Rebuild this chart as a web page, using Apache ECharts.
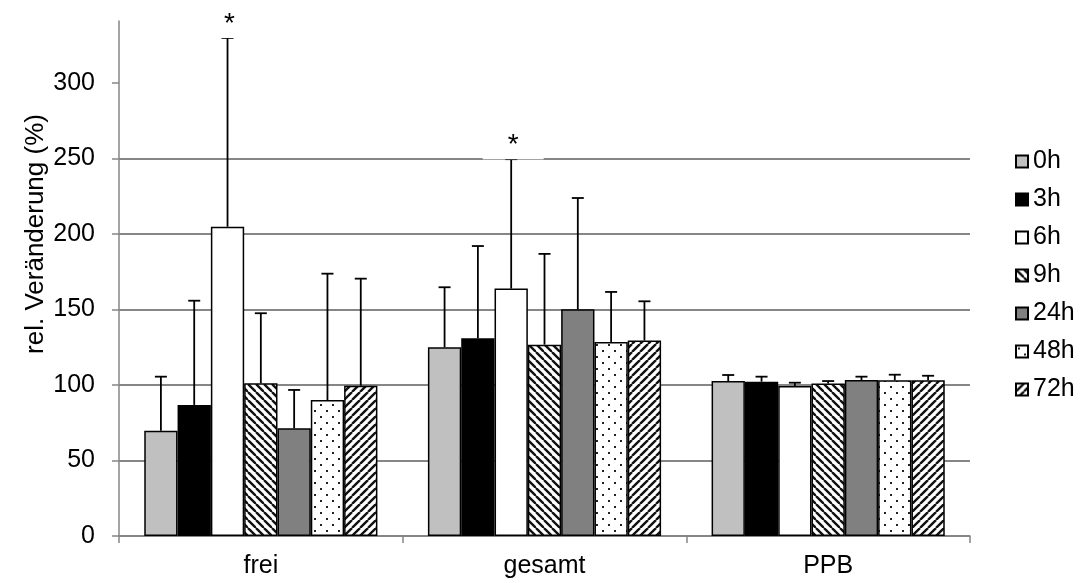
<!DOCTYPE html>
<html><head><meta charset="utf-8">
<script src="https://cdn.jsdelivr.net/npm/echarts@6/dist/echarts.min.js"></script>
<style>html,body{margin:0;padding:0;background:#fff}#c{width:1082px;height:583px}</style>
</head><body><div id="c"></div>
<script>
// ---- data ----
const categories = ['frei', 'gesamt', 'PPB'];
const seriesNames = ['0h', '3h', '6h', '9h', '24h', '48h', '72h'];
const v0h  = [69.7, 125.0, 102.6];
const v3h  = [86.8, 130.9, 102.2];
const v6h  = [204.8, 163.8, 99.3];
const v9h  = [101.1, 126.7, 100.9];
const v24h = [71.3, 150.1, 103.3];
const v48h = [90.0, 128.5, 103.1];
const v72h = [99.5, 129.4, 103.1];
// upper ends of the error bars
const e0h  = [105.5, 164.7, 106.6];
const e3h  = [155.8, 192.0, 105.5];
const e6h  = [329.8, 249.5, 101.5];
const e9h  = [147.5, 186.8, 102.6];
const e24h = [96.7, 223.8, 105.5];
const e48h = [173.7, 161.6, 106.8];
const e72h = [170.4, 155.4, 106.1];
const marks6h = ['*', '*', ''];
const yTicks = [0, 50, 100, 150, 200, 250, 300];

const allValues = [v0h, v3h, v6h, v9h, v24h, v48h, v72h];
const allErrors = [e0h, e3h, e6h, e9h, e24h, e48h, e72h];
const allMarks = [null, null, marks6h, null, null, null, null];

// ---- patterns ----
function stripes(dir) {
  const s = 8, c = document.createElement('canvas');
  c.width = s; c.height = s;
  const g = c.getContext('2d');
  g.fillStyle = '#fff'; g.fillRect(0, 0, s, s);
  g.strokeStyle = '#111'; g.lineWidth = 2.4;
  for (const x0 of [-s, 0, s]) {
    g.beginPath();
    if (dir === '\\') { g.moveTo(x0, 0); g.lineTo(x0 + s, s); }
    else { g.moveTo(x0, s); g.lineTo(x0 + s, 0); }
    g.stroke();
  }
  return { image: c, repeat: 'repeat' };
}
function dots() {
  const c = document.createElement('canvas');
  c.width = 12; c.height = 12;
  const g = c.getContext('2d');
  g.fillStyle = '#fff'; g.fillRect(0, 0, 12, 12);
  g.fillStyle = '#222';
  g.fillRect(2, 2, 2, 2);
  g.fillRect(8, 8, 2, 2);
  return { image: c, repeat: 'repeat' };
}
const fills = ['#c0c0c0', '#000000', '#ffffff', stripes('\\'), '#808080', dots(), stripes('/')];

const FONT = 'Liberation Sans';
const GAP = 0.178;
const N = seriesNames.length;

const series = [];
seriesNames.forEach((name, i) => {
  series.push({
    name: name, type: 'bar', data: allValues[i],
    barGap: '0%', barCategoryGap: (GAP * 100) + '%',
    itemStyle: { color: fills[i], borderColor: '#000', borderWidth: 1.5 },
    emphasis: { disabled: true }, z: 2
  });
});
seriesNames.forEach((name, i) => {
  const data = categories.map((c, k) => [k, allErrors[i][k], allValues[i][k]]);
  series.push({
    name: 'err' + name, type: 'custom', z: 5, silent: true,
    data: data,
    renderItem: function (params, api) {
      const k = api.value(0);
      const top = api.coord([k, api.value(1)]);
      const base = api.coord([k, api.value(2)]);
      const catW = api.size([1, 0])[0];
      const groupW = catW * (1 - GAP);
      const barW = groupW / N;
      const x = top[0] - groupW / 2 + (i + 0.5) * barW;
      const ls = { stroke: '#000', lineWidth: 1.8 };
      const children = [
        { type: 'line', shape: { x1: x, y1: base[1], x2: x, y2: top[1] }, style: ls },
        { type: 'line', shape: { x1: x - 6, y1: top[1], x2: x + 6, y2: top[1] }, style: ls }
      ];
      const m = allMarks[i] ? allMarks[i][k] : '';
      if (m) {
        children.push({
          type: 'text', z2: 10,
          style: {
            text: m, x: x + 2, y: top[1], align: 'center', verticalAlign: 'bottom',
            fill: '#000', fontSize: 28, fontFamily: FONT,
            backgroundColor: '#fff', padding: [2, 25, 0, 25]
          }
        });
      }
      return { type: 'group', children: children };
    }
  });
});

const chart = echarts.init(document.getElementById('c'), null, { renderer: 'canvas' });
chart.setOption({
  animation: false,
  backgroundColor: '#fff',
  textStyle: { fontFamily: FONT, color: '#000' },
  grid: { left: 119, right: 112, top: 21, bottom: 47, containLabel: false },
  legend: {
    data: seriesNames, orient: 'vertical', left: 1010, top: 144,
    icon: 'rect', itemWidth: 12, itemHeight: 12, itemGap: 13, itemTextGap: 3,
    textStyle: { fontSize: 25, fontFamily: FONT, color: '#000' },
    selectedMode: false
  },
  xAxis: {
    type: 'category', data: categories,
    axisLine: { show: true, lineStyle: { color: '#868686', width: 1.5 } },
    axisTick: { show: true, alignWithLabel: false, length: 7, lineStyle: { color: '#868686', width: 1.5 } },
    axisLabel: { fontSize: 25, fontFamily: FONT, color: '#000', margin: 18 },
    splitLine: { show: false }
  },
  yAxis: {
    type: 'value', min: 0, max: 341, interval: 50,
    axisLine: { show: true, lineStyle: { color: '#868686', width: 1.5 } },
    axisTick: { show: true, length: 7, customValues: yTicks, lineStyle: { color: '#868686', width: 1.5 } },
    axisLabel: { fontSize: 25, fontFamily: FONT, color: '#000', margin: 24, showMaxLabel: false },
    splitLine: { show: true, showMaxLine: false, lineStyle: { color: '#868686', width: 2 } }
  },
  graphic: [{
    type: 'text', x: 36, y: 234, rotation: Math.PI / 2,
    style: { text: 'rel. Veränderung (%)', fontSize: 26, fontFamily: FONT, fill: '#000', align: 'center', verticalAlign: 'middle' }
  }],
  series: series
});
</script>
</body></html>
